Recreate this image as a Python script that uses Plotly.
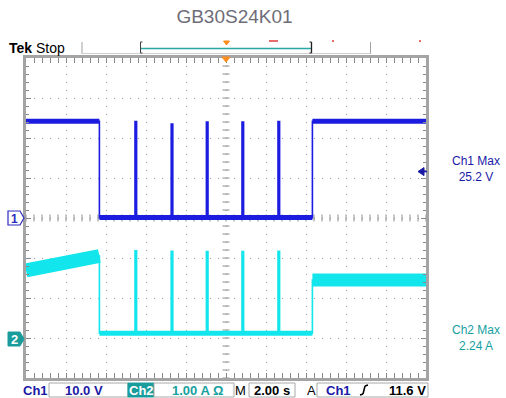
import numpy as np
import plotly.graph_objects as go

ch1_edge_t = [-6.33, 4.32]                 # s : fall, rise
spike_t = [-4.55, -2.74, -0.98, 0.80, 2.60]  # s
spike_width = 0.08                         # s
ch1_high = 24.2                            # V
ch1_low = 0.1                              # V
ch1_spike_peak = [24.1, 23.5, 24.0, 24.0, 24.1]   # V
ch2_ramp_t = [-10.0, -7.9, -6.33]          # s
ch2_ramp_a = [1.69, 1.85, 2.05]            # A
ch2_low = 0.12                             # A
ch2_end = 1.45                             # A
ch2_spike_peak = [2.18, 2.17, 2.16, 2.16, 2.17]   # A
trigger_level = 11.6                       # V
ch1_max_text = "25.2 V"
ch2_max_text = "2.24 A"
title_text = "GB30S24K01"

# ---------------- geometry helpers (decoration only) ----------------
W, H = 506, 398
L, R, T, B = 26, 426, 58, 378


def px(x):
    return (x - L) / (R - L)


def py(y):
    return (B - y) / (B - T)


BLUE = "#1c1ce0"
CYAN = "#12e6ec"
BLUE_TXT = "#1a1aa6"
TEAL_TXT = "#17a0a0"
TEAL_BOX = "#1a9c9c"
GRID = "#a0a0a0"
FONT = "Liberation Sans, Arial, sans-serif"

fall, rise = ch1_edge_t

# ---------------- build waveforms ----------------
c1_t = [-10.0, fall, fall]
c1_v = [ch1_high, ch1_high, ch1_low]
for ts, pk in zip(spike_t, ch1_spike_peak):
    c1_t += [ts, ts, ts + spike_width, ts + spike_width]
    c1_v += [ch1_low, pk, pk, ch1_low]
c1_t += [rise, rise, 10.0]
c1_v += [ch1_low, ch1_high, ch1_high]

c2_t = list(ch2_ramp_t) + [fall]
c2_v = list(ch2_ramp_a) + [ch2_low]
for ts, pk in zip(spike_t, ch2_spike_peak):
    c2_t += [ts, ts, ts + spike_width, ts + spike_width]
    c2_v += [ch2_low, pk, pk, ch2_low]
c2_t += [rise, rise, 10.0]
c2_v += [ch2_low, ch2_end, ch2_end]

fig = go.Figure()

# center cross ticks
fig.add_trace(go.Scatter(x=np.arange(-10, 10.01, 0.4), y=[0] * 51, mode="markers",
                         marker=dict(symbol="line-ns", size=5, line=dict(width=1, color="#8c8c8c")),
                         hoverinfo="skip"))
fig.add_trace(go.Scatter(x=[0] * 41, y=np.arange(-40, 40.1, 2), mode="markers",
                         marker=dict(symbol="line-ew", size=5, line=dict(width=1, color="#8c8c8c")),
                         hoverinfo="skip"))

# Ch1 noise body (flat segments)
fig.add_trace(go.Scatter(x=[-10, fall, None, fall, rise, None, rise, 10],
                         y=[ch1_high, ch1_high, None, ch1_low, ch1_low, None, ch1_high, ch1_high],
                         mode="lines", line=dict(color=BLUE, width=5), hoverinfo="skip"))
fig.add_trace(go.Scatter(x=c1_t, y=c1_v, mode="lines", line=dict(color=BLUE, width=1.6)))

# Ch2 noise body
fig.add_trace(go.Scatter(x=ch2_ramp_t, y=ch2_ramp_a, mode="lines", yaxis="y2",
                         line=dict(color=CYAN, width=14), hoverinfo="skip"))
fig.add_trace(go.Scatter(x=[fall, rise], y=[ch2_low, ch2_low], mode="lines", yaxis="y2",
                         line=dict(color=CYAN, width=5), hoverinfo="skip"))
fig.add_trace(go.Scatter(x=[rise, 10], y=[ch2_end, ch2_end], mode="lines", yaxis="y2",
                         line=dict(color=CYAN, width=13), hoverinfo="skip"))
fig.add_trace(go.Scatter(x=c2_t, y=c2_v, mode="lines", yaxis="y2",
                         line=dict(color=CYAN, width=1.6)))

axis_common = dict(showgrid=True, gridcolor=GRID, griddash="1px,7px", gridwidth=1,
                   zeroline=False, showline=True, linecolor="#a4a4a4", linewidth=3,
                   mirror="allticks", ticks="inside", ticklen=5, tickcolor="#888888",
                   tickwidth=1, showticklabels=False, fixedrange=True)

fig.update_layout(
    width=W, height=H,
    margin=dict(l=L, r=W - R, t=T, b=H - B, pad=0),
    paper_bgcolor="white", plot_bgcolor="white", showlegend=False,
    xaxis=dict(range=[-10, 10], dtick=2, tick0=0,
               minor=dict(dtick=0.4, ticklen=3, ticks="inside", tickcolor="#888888", showgrid=False),
               **axis_common),
    yaxis=dict(range=[-40, 40], dtick=10, tick0=0,
               minor=dict(dtick=2, ticklen=3, ticks="inside", tickcolor="#888888", showgrid=False),
               **axis_common),
    yaxis2=dict(range=[-1, 7], overlaying="y", showgrid=False, zeroline=False,
                showline=False, ticks="", showticklabels=False, fixedrange=True),
    title=dict(text=title_text, x=234.5 / W, xanchor="center", xref="container",
               y=1 - 16.5 / H, yanchor="middle",
               font=dict(family=FONT, size=19, color="#6d6d78")),
)

anns = []
shapes = []


def ann(x, y, text, size=13, color="black", xanchor="center", bold=False, family=FONT):
    anns.append(dict(xref="paper", yref="paper", x=px(x), y=py(y), text=("<b>%s</b>" % text) if bold else text,
                     showarrow=False, xanchor=xanchor, yanchor="middle",
                     font=dict(family=family, size=size, color=color)))


def poly(points, fill, line=None, width=1):
    d = "M " + " L ".join("%f,%f" % (px(a), py(b)) for a, b in points) + " Z"
    shapes.append(dict(type="path", xref="paper", yref="paper", path=d, fillcolor=fill,
                       line=dict(color=line or fill, width=width)))


def seg(x0, y0, x1, y1, color, width=1):
    shapes.append(dict(type="line", xref="paper", yref="paper", x0=px(x0), y0=py(y0),
                       x1=px(x1), y1=py(y1), line=dict(color=color, width=width)))


def box(x0, y0, x1, y1, fill="white", line="#a8a8a8"):
    shapes.append(dict(type="rect", xref="paper", yref="paper", x0=px(x0), y0=py(y0),
                       x1=px(x1), y1=py(y1), fillcolor=fill, line=dict(color=line, width=1)))


# ---- top bar ----
ann(20, 47.5, "Tek", size=14, bold=True)
ann(50, 47.5, "Stop", size=14)
seg(82, 42, 82, 54, "#a0a0a0", 1)
seg(370.5, 42, 370.5, 54, "#a0a0a0", 1)
seg(82, 53.5, 370.5, 53.5, "#d0d0d0", 1)
seg(141, 48.5, 311, 48.5, "#2aa8a8", 1.5)
# brackets
seg(140.5, 42, 140.5, 53, "#404040", 1)
seg(140.5, 42, 142.5, 42, "#404040", 1)
seg(140.5, 53, 142.5, 53, "#404040", 1)
seg(311.5, 42, 311.5, 53, "#202020", 1.3)
seg(309.5, 42, 311.5, 42, "#202020", 1)
seg(309.5, 53, 311.5, 53, "#202020", 1)
poly([(223.5, 41), (229.5, 41), (226.5, 45)], "#ff8c1a")
poly([(222, 57), (230, 57), (226, 62)], "#ff8c1a")
seg(269, 41, 278, 41, "#e23a3a", 1.5)
seg(332, 41, 334, 41, "#e23a3a", 1.5)
seg(419, 41, 421, 41, "#e23a3a", 1.5)

# ---- channel ground markers ----
poly([(8, 211), (20, 211), (24, 218), (20, 225), (8, 225)], "white", line="#2a2ac0", width=1.2)
ann(14.5, 218.5, "1", size=12, color="#2a2ac0", bold=True)
poly([(8, 332), (20, 332), (24, 339), (20, 346), (8, 346)], TEAL_BOX, line=TEAL_BOX)
ann(14.5, 339.5, "2", size=13, color="white", bold=True)

# ---- trigger level arrow (Ch1) ----
ty = 218 - trigger_level * 4
poly([(418, ty), (424, ty - 4), (424, ty + 4)], BLUE_TXT)
seg(424, ty, 427, ty, BLUE_TXT, 1.5)

# ---- right read-outs ----
ann(476, 168.5, "Ch1 Max<br>" + ch1_max_text, size=12, color=BLUE_TXT)
ann(476, 337.5, "Ch2 Max<br>" + ch2_max_text, size=12, color=TEAL_TXT)

# ---- status bar ----
by0, by1, bc = 383, 397, 390
ann(35.5, bc, "Ch1", size=13, color=BLUE_TXT, bold=True)
box(49, by0, 128, by1)
ann(84, bc, "10.0 V", size=13, color=BLUE_TXT, bold=True)
box(128, by0, 154, by1, fill=TEAL_BOX, line=TEAL_BOX)
ann(141, bc, "Ch2", size=13, color="white", bold=True)
box(154, by0, 234, by1)
ann(197.5, bc, "1.00 A Ω", size=13, color=TEAL_TXT, bold=True)
ann(240.5, bc, "M", size=13, color="black")
box(249, by0, 295, by1)
ann(272, bc, "2.00 s", size=13, color="black", bold=True)
ann(311, bc, "A", size=13, color="black")
box(317, by0, 428, by1)
ann(338, bc, "Ch1", size=13, color=BLUE_TXT, bold=True)
# rising edge glyph
seg(360, 395, 363, 394, "black", 1.6)
seg(363, 394, 365, 386, "black", 1.6)
seg(365, 386, 368, 385, "black", 1.6)
ann(407.5, bc, "11.6 V", size=13, color="black", bold=True)

fig.update_layout(annotations=anns, shapes=shapes)
fig.write_html("out.html", config={"displayModeBar": False},
               post_script="document.body.style.margin='0px';document.body.style.overflow='hidden';")
